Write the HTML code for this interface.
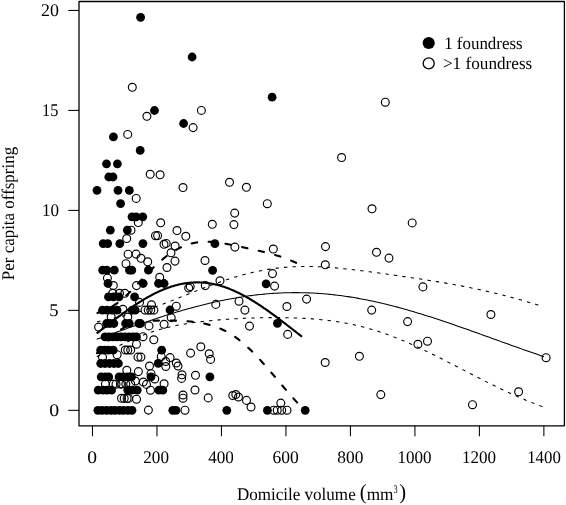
<!DOCTYPE html>
<html><head><meta charset="utf-8"><title>Per capita offspring vs domicile volume</title>
<style>html,body{margin:0;padding:0;background:#fff;}svg{display:block;}text{font-family:"Liberation Serif",serif;fill:#000;text-rendering:geometricPrecision;}svg{will-change:transform;}</style>
</head><body>
<svg width="566" height="505" viewBox="0 0 566 505">
<rect width="566" height="505" fill="#fff"/>
<rect x="79.0" y="1.5" width="485.40" height="424.30" fill="none" stroke="#000" stroke-width="1.3" stroke-linejoin="round"/>
<line x1="68.3" y1="410.35" x2="79.0" y2="410.35" stroke="#000" stroke-width="1.05"/>
<line x1="68.3" y1="310.38" x2="79.0" y2="310.38" stroke="#000" stroke-width="1.05"/>
<line x1="68.3" y1="210.40" x2="79.0" y2="210.40" stroke="#000" stroke-width="1.05"/>
<line x1="68.3" y1="110.43" x2="79.0" y2="110.43" stroke="#000" stroke-width="1.05"/>
<line x1="68.3" y1="10.45" x2="79.0" y2="10.45" stroke="#000" stroke-width="1.05"/>
<line x1="92.48" y1="425.8" x2="92.48" y2="436.3" stroke="#000" stroke-width="1.05"/>
<line x1="156.97" y1="425.8" x2="156.97" y2="436.3" stroke="#000" stroke-width="1.05"/>
<line x1="221.45" y1="425.8" x2="221.45" y2="436.3" stroke="#000" stroke-width="1.05"/>
<line x1="285.94" y1="425.8" x2="285.94" y2="436.3" stroke="#000" stroke-width="1.05"/>
<line x1="350.42" y1="425.8" x2="350.42" y2="436.3" stroke="#000" stroke-width="1.05"/>
<line x1="414.91" y1="425.8" x2="414.91" y2="436.3" stroke="#000" stroke-width="1.05"/>
<line x1="479.40" y1="425.8" x2="479.40" y2="436.3" stroke="#000" stroke-width="1.05"/>
<line x1="543.88" y1="425.8" x2="543.88" y2="436.3" stroke="#000" stroke-width="1.05"/>
<circle cx="132.3" cy="87.3" r="3.95" fill="none" stroke="#000" stroke-width="1.15"/>
<circle cx="385.3" cy="102.2" r="3.95" fill="none" stroke="#000" stroke-width="1.15"/>
<circle cx="201.4" cy="110.4" r="3.95" fill="none" stroke="#000" stroke-width="1.15"/>
<circle cx="146.9" cy="116.3" r="3.95" fill="none" stroke="#000" stroke-width="1.15"/>
<circle cx="193.1" cy="127.6" r="3.95" fill="none" stroke="#000" stroke-width="1.15"/>
<circle cx="127.7" cy="134.4" r="3.95" fill="none" stroke="#000" stroke-width="1.15"/>
<circle cx="341.6" cy="157.5" r="3.95" fill="none" stroke="#000" stroke-width="1.15"/>
<circle cx="150.2" cy="174.3" r="3.95" fill="none" stroke="#000" stroke-width="1.15"/>
<circle cx="160.1" cy="174.8" r="3.95" fill="none" stroke="#000" stroke-width="1.15"/>
<circle cx="229.5" cy="182.3" r="3.95" fill="none" stroke="#000" stroke-width="1.15"/>
<circle cx="183.0" cy="187.5" r="3.95" fill="none" stroke="#000" stroke-width="1.15"/>
<circle cx="246.4" cy="187.3" r="3.95" fill="none" stroke="#000" stroke-width="1.15"/>
<circle cx="136.2" cy="198.4" r="3.95" fill="none" stroke="#000" stroke-width="1.15"/>
<circle cx="267.3" cy="203.7" r="3.95" fill="none" stroke="#000" stroke-width="1.15"/>
<circle cx="372.0" cy="208.8" r="3.95" fill="none" stroke="#000" stroke-width="1.15"/>
<circle cx="234.7" cy="213.1" r="3.95" fill="none" stroke="#000" stroke-width="1.15"/>
<circle cx="138.3" cy="222.5" r="3.95" fill="none" stroke="#000" stroke-width="1.15"/>
<circle cx="160.7" cy="222.8" r="3.95" fill="none" stroke="#000" stroke-width="1.15"/>
<circle cx="412.2" cy="222.9" r="3.95" fill="none" stroke="#000" stroke-width="1.15"/>
<circle cx="212.3" cy="224.3" r="3.95" fill="none" stroke="#000" stroke-width="1.15"/>
<circle cx="233.9" cy="224.6" r="3.95" fill="none" stroke="#000" stroke-width="1.15"/>
<circle cx="131.0" cy="230.2" r="3.95" fill="none" stroke="#000" stroke-width="1.15"/>
<circle cx="177.0" cy="230.5" r="3.95" fill="none" stroke="#000" stroke-width="1.15"/>
<circle cx="155.5" cy="235.7" r="3.95" fill="none" stroke="#000" stroke-width="1.15"/>
<circle cx="157.6" cy="235.6" r="3.95" fill="none" stroke="#000" stroke-width="1.15"/>
<circle cx="185.8" cy="236.3" r="3.95" fill="none" stroke="#000" stroke-width="1.15"/>
<circle cx="126.7" cy="238.5" r="3.95" fill="none" stroke="#000" stroke-width="1.15"/>
<circle cx="164.0" cy="244.3" r="3.95" fill="none" stroke="#000" stroke-width="1.15"/>
<circle cx="166.2" cy="243.4" r="3.95" fill="none" stroke="#000" stroke-width="1.15"/>
<circle cx="175.1" cy="246.0" r="3.95" fill="none" stroke="#000" stroke-width="1.15"/>
<circle cx="234.9" cy="247.1" r="3.95" fill="none" stroke="#000" stroke-width="1.15"/>
<circle cx="325.5" cy="246.6" r="3.95" fill="none" stroke="#000" stroke-width="1.15"/>
<circle cx="273.3" cy="249.0" r="3.95" fill="none" stroke="#000" stroke-width="1.15"/>
<circle cx="171.0" cy="252.8" r="3.95" fill="none" stroke="#000" stroke-width="1.15"/>
<circle cx="376.5" cy="252.3" r="3.95" fill="none" stroke="#000" stroke-width="1.15"/>
<circle cx="128.1" cy="254.2" r="3.95" fill="none" stroke="#000" stroke-width="1.15"/>
<circle cx="136.1" cy="254.1" r="3.95" fill="none" stroke="#000" stroke-width="1.15"/>
<circle cx="141.0" cy="258.3" r="3.95" fill="none" stroke="#000" stroke-width="1.15"/>
<circle cx="389.0" cy="258.1" r="3.95" fill="none" stroke="#000" stroke-width="1.15"/>
<circle cx="147.7" cy="261.8" r="3.95" fill="none" stroke="#000" stroke-width="1.15"/>
<circle cx="175.0" cy="261.1" r="3.95" fill="none" stroke="#000" stroke-width="1.15"/>
<circle cx="205.0" cy="260.5" r="3.95" fill="none" stroke="#000" stroke-width="1.15"/>
<circle cx="126.0" cy="263.7" r="3.95" fill="none" stroke="#000" stroke-width="1.15"/>
<circle cx="325.3" cy="264.8" r="3.95" fill="none" stroke="#000" stroke-width="1.15"/>
<circle cx="167.0" cy="267.5" r="3.95" fill="none" stroke="#000" stroke-width="1.15"/>
<circle cx="272.5" cy="273.6" r="3.95" fill="none" stroke="#000" stroke-width="1.15"/>
<circle cx="107.4" cy="278.1" r="3.95" fill="none" stroke="#000" stroke-width="1.15"/>
<circle cx="159.7" cy="277.3" r="3.95" fill="none" stroke="#000" stroke-width="1.15"/>
<circle cx="220.0" cy="280.8" r="3.95" fill="none" stroke="#000" stroke-width="1.15"/>
<circle cx="113.3" cy="285.5" r="3.95" fill="none" stroke="#000" stroke-width="1.15"/>
<circle cx="136.5" cy="285.6" r="3.95" fill="none" stroke="#000" stroke-width="1.15"/>
<circle cx="188.7" cy="288.0" r="3.95" fill="none" stroke="#000" stroke-width="1.15"/>
<circle cx="190.2" cy="286.6" r="3.95" fill="none" stroke="#000" stroke-width="1.15"/>
<circle cx="205.3" cy="285.6" r="3.95" fill="none" stroke="#000" stroke-width="1.15"/>
<circle cx="274.6" cy="286.1" r="3.95" fill="none" stroke="#000" stroke-width="1.15"/>
<circle cx="422.9" cy="286.9" r="3.95" fill="none" stroke="#000" stroke-width="1.15"/>
<circle cx="112.7" cy="293.3" r="3.95" fill="none" stroke="#000" stroke-width="1.15"/>
<circle cx="119.5" cy="293.3" r="3.95" fill="none" stroke="#000" stroke-width="1.15"/>
<circle cx="124.8" cy="293.3" r="3.95" fill="none" stroke="#000" stroke-width="1.15"/>
<circle cx="306.6" cy="299.1" r="3.95" fill="none" stroke="#000" stroke-width="1.15"/>
<circle cx="239.0" cy="301.2" r="3.95" fill="none" stroke="#000" stroke-width="1.15"/>
<circle cx="139.5" cy="302.4" r="3.95" fill="none" stroke="#000" stroke-width="1.15"/>
<circle cx="151.5" cy="304.8" r="3.95" fill="none" stroke="#000" stroke-width="1.15"/>
<circle cx="215.8" cy="304.4" r="3.95" fill="none" stroke="#000" stroke-width="1.15"/>
<circle cx="176.3" cy="306.2" r="3.95" fill="none" stroke="#000" stroke-width="1.15"/>
<circle cx="286.9" cy="306.5" r="3.95" fill="none" stroke="#000" stroke-width="1.15"/>
<circle cx="145.0" cy="310.1" r="3.95" fill="none" stroke="#000" stroke-width="1.15"/>
<circle cx="148.2" cy="310.1" r="3.95" fill="none" stroke="#000" stroke-width="1.15"/>
<circle cx="150.8" cy="310.1" r="3.95" fill="none" stroke="#000" stroke-width="1.15"/>
<circle cx="153.9" cy="310.1" r="3.95" fill="none" stroke="#000" stroke-width="1.15"/>
<circle cx="122.9" cy="309.3" r="3.95" fill="none" stroke="#000" stroke-width="1.15"/>
<circle cx="244.9" cy="310.1" r="3.95" fill="none" stroke="#000" stroke-width="1.15"/>
<circle cx="371.7" cy="310.1" r="3.95" fill="none" stroke="#000" stroke-width="1.15"/>
<circle cx="490.9" cy="314.5" r="3.95" fill="none" stroke="#000" stroke-width="1.15"/>
<circle cx="171.2" cy="317.6" r="3.95" fill="none" stroke="#000" stroke-width="1.15"/>
<circle cx="111.2" cy="317.0" r="3.95" fill="none" stroke="#000" stroke-width="1.15"/>
<circle cx="127.8" cy="317.0" r="3.95" fill="none" stroke="#000" stroke-width="1.15"/>
<circle cx="407.6" cy="321.6" r="3.95" fill="none" stroke="#000" stroke-width="1.15"/>
<circle cx="149.0" cy="325.9" r="3.95" fill="none" stroke="#000" stroke-width="1.15"/>
<circle cx="164.1" cy="324.3" r="3.95" fill="none" stroke="#000" stroke-width="1.15"/>
<circle cx="249.5" cy="326.1" r="3.95" fill="none" stroke="#000" stroke-width="1.15"/>
<circle cx="98.6" cy="327.1" r="3.95" fill="none" stroke="#000" stroke-width="1.15"/>
<circle cx="287.7" cy="334.4" r="3.95" fill="none" stroke="#000" stroke-width="1.15"/>
<circle cx="143.0" cy="336.7" r="3.95" fill="none" stroke="#000" stroke-width="1.15"/>
<circle cx="153.8" cy="339.8" r="3.95" fill="none" stroke="#000" stroke-width="1.15"/>
<circle cx="427.5" cy="341.2" r="3.95" fill="none" stroke="#000" stroke-width="1.15"/>
<circle cx="136.5" cy="344.2" r="3.95" fill="none" stroke="#000" stroke-width="1.15"/>
<circle cx="417.9" cy="344.3" r="3.95" fill="none" stroke="#000" stroke-width="1.15"/>
<circle cx="200.8" cy="346.8" r="3.95" fill="none" stroke="#000" stroke-width="1.15"/>
<circle cx="125.3" cy="350.0" r="3.95" fill="none" stroke="#000" stroke-width="1.15"/>
<circle cx="127.8" cy="350.0" r="3.95" fill="none" stroke="#000" stroke-width="1.15"/>
<circle cx="130.7" cy="350.0" r="3.95" fill="none" stroke="#000" stroke-width="1.15"/>
<circle cx="190.6" cy="353.1" r="3.95" fill="none" stroke="#000" stroke-width="1.15"/>
<circle cx="209.2" cy="353.8" r="3.95" fill="none" stroke="#000" stroke-width="1.15"/>
<circle cx="117.1" cy="354.7" r="3.95" fill="none" stroke="#000" stroke-width="1.15"/>
<circle cx="359.4" cy="356.3" r="3.95" fill="none" stroke="#000" stroke-width="1.15"/>
<circle cx="102.5" cy="357.1" r="3.95" fill="none" stroke="#000" stroke-width="1.15"/>
<circle cx="138.0" cy="357.1" r="3.95" fill="none" stroke="#000" stroke-width="1.15"/>
<circle cx="140.9" cy="357.1" r="3.95" fill="none" stroke="#000" stroke-width="1.15"/>
<circle cx="161.2" cy="356.6" r="3.95" fill="none" stroke="#000" stroke-width="1.15"/>
<circle cx="170.1" cy="357.6" r="3.95" fill="none" stroke="#000" stroke-width="1.15"/>
<circle cx="546.1" cy="357.7" r="3.95" fill="none" stroke="#000" stroke-width="1.15"/>
<circle cx="210.6" cy="359.4" r="3.95" fill="none" stroke="#000" stroke-width="1.15"/>
<circle cx="165.7" cy="361.5" r="3.95" fill="none" stroke="#000" stroke-width="1.15"/>
<circle cx="176.3" cy="363.0" r="3.95" fill="none" stroke="#000" stroke-width="1.15"/>
<circle cx="325.2" cy="362.5" r="3.95" fill="none" stroke="#000" stroke-width="1.15"/>
<circle cx="149.5" cy="366.0" r="3.95" fill="none" stroke="#000" stroke-width="1.15"/>
<circle cx="165.8" cy="366.5" r="3.95" fill="none" stroke="#000" stroke-width="1.15"/>
<circle cx="178.0" cy="366.0" r="3.95" fill="none" stroke="#000" stroke-width="1.15"/>
<circle cx="126.8" cy="370.3" r="3.95" fill="none" stroke="#000" stroke-width="1.15"/>
<circle cx="138.4" cy="371.6" r="3.95" fill="none" stroke="#000" stroke-width="1.15"/>
<circle cx="151.0" cy="373.7" r="3.95" fill="none" stroke="#000" stroke-width="1.15"/>
<circle cx="182.0" cy="374.8" r="3.95" fill="none" stroke="#000" stroke-width="1.15"/>
<circle cx="195.5" cy="375.3" r="3.95" fill="none" stroke="#000" stroke-width="1.15"/>
<circle cx="154.8" cy="379.0" r="3.95" fill="none" stroke="#000" stroke-width="1.15"/>
<circle cx="181.6" cy="378.4" r="3.95" fill="none" stroke="#000" stroke-width="1.15"/>
<circle cx="143.3" cy="382.0" r="3.95" fill="none" stroke="#000" stroke-width="1.15"/>
<circle cx="105.4" cy="384.1" r="3.95" fill="none" stroke="#000" stroke-width="1.15"/>
<circle cx="113.2" cy="384.1" r="3.95" fill="none" stroke="#000" stroke-width="1.15"/>
<circle cx="116.0" cy="384.2" r="3.95" fill="none" stroke="#000" stroke-width="1.15"/>
<circle cx="120.5" cy="384.1" r="3.95" fill="none" stroke="#000" stroke-width="1.15"/>
<circle cx="121.9" cy="384.0" r="3.95" fill="none" stroke="#000" stroke-width="1.15"/>
<circle cx="125.8" cy="384.0" r="3.95" fill="none" stroke="#000" stroke-width="1.15"/>
<circle cx="130.7" cy="384.0" r="3.95" fill="none" stroke="#000" stroke-width="1.15"/>
<circle cx="135.4" cy="381.0" r="3.95" fill="none" stroke="#000" stroke-width="1.15"/>
<circle cx="146.5" cy="384.4" r="3.95" fill="none" stroke="#000" stroke-width="1.15"/>
<circle cx="164.1" cy="383.8" r="3.95" fill="none" stroke="#000" stroke-width="1.15"/>
<circle cx="150.5" cy="390.2" r="3.95" fill="none" stroke="#000" stroke-width="1.15"/>
<circle cx="195.0" cy="390.0" r="3.95" fill="none" stroke="#000" stroke-width="1.15"/>
<circle cx="518.6" cy="391.8" r="3.95" fill="none" stroke="#000" stroke-width="1.15"/>
<circle cx="380.8" cy="394.6" r="3.95" fill="none" stroke="#000" stroke-width="1.15"/>
<circle cx="183.0" cy="395.0" r="3.95" fill="none" stroke="#000" stroke-width="1.15"/>
<circle cx="183.0" cy="398.2" r="3.95" fill="none" stroke="#000" stroke-width="1.15"/>
<circle cx="232.8" cy="395.5" r="3.95" fill="none" stroke="#000" stroke-width="1.15"/>
<circle cx="235.8" cy="394.5" r="3.95" fill="none" stroke="#000" stroke-width="1.15"/>
<circle cx="238.5" cy="397.0" r="3.95" fill="none" stroke="#000" stroke-width="1.15"/>
<circle cx="121.5" cy="398.3" r="3.95" fill="none" stroke="#000" stroke-width="1.15"/>
<circle cx="124.2" cy="398.4" r="3.95" fill="none" stroke="#000" stroke-width="1.15"/>
<circle cx="127.1" cy="398.4" r="3.95" fill="none" stroke="#000" stroke-width="1.15"/>
<circle cx="128.6" cy="398.4" r="3.95" fill="none" stroke="#000" stroke-width="1.15"/>
<circle cx="136.5" cy="399.2" r="3.95" fill="none" stroke="#000" stroke-width="1.15"/>
<circle cx="208.2" cy="397.9" r="3.95" fill="none" stroke="#000" stroke-width="1.15"/>
<circle cx="246.5" cy="400.4" r="3.95" fill="none" stroke="#000" stroke-width="1.15"/>
<circle cx="280.8" cy="403.1" r="3.95" fill="none" stroke="#000" stroke-width="1.15"/>
<circle cx="472.5" cy="404.7" r="3.95" fill="none" stroke="#000" stroke-width="1.15"/>
<circle cx="251.0" cy="407.0" r="3.95" fill="none" stroke="#000" stroke-width="1.15"/>
<circle cx="148.4" cy="410.1" r="3.95" fill="none" stroke="#000" stroke-width="1.15"/>
<circle cx="185.0" cy="410.2" r="3.95" fill="none" stroke="#000" stroke-width="1.15"/>
<circle cx="273.7" cy="410.2" r="3.95" fill="none" stroke="#000" stroke-width="1.15"/>
<circle cx="277.2" cy="410.2" r="3.95" fill="none" stroke="#000" stroke-width="1.15"/>
<circle cx="281.7" cy="410.2" r="3.95" fill="none" stroke="#000" stroke-width="1.15"/>
<circle cx="287.0" cy="410.2" r="3.95" fill="none" stroke="#000" stroke-width="1.15"/>
<circle cx="140.6" cy="17.3" r="4.4" fill="#000"/>
<circle cx="192.1" cy="57.0" r="4.4" fill="#000"/>
<circle cx="272.1" cy="97.2" r="4.4" fill="#000"/>
<circle cx="154.5" cy="110.5" r="4.4" fill="#000"/>
<circle cx="183.6" cy="123.5" r="4.4" fill="#000"/>
<circle cx="113.4" cy="136.9" r="4.4" fill="#000"/>
<circle cx="140.2" cy="150.4" r="4.4" fill="#000"/>
<circle cx="214.9" cy="243.7" r="4.4" fill="#000"/>
<circle cx="212.6" cy="270.3" r="4.4" fill="#000"/>
<circle cx="266.1" cy="283.8" r="4.4" fill="#000"/>
<circle cx="170.0" cy="310.0" r="4.4" fill="#000"/>
<circle cx="161.7" cy="350.2" r="4.4" fill="#000"/>
<circle cx="158.2" cy="363.4" r="4.4" fill="#000"/>
<circle cx="151.0" cy="376.8" r="4.4" fill="#000"/>
<circle cx="209.9" cy="376.8" r="4.4" fill="#000"/>
<circle cx="277.4" cy="323.3" r="4.4" fill="#000"/>
<circle cx="106.5" cy="163.8" r="4.4" fill="#000"/>
<circle cx="117.4" cy="163.8" r="4.4" fill="#000"/>
<circle cx="108.8" cy="177.0" r="4.4" fill="#000"/>
<circle cx="113.0" cy="177.0" r="4.4" fill="#000"/>
<circle cx="97.0" cy="190.3" r="4.4" fill="#000"/>
<circle cx="118.0" cy="190.3" r="4.4" fill="#000"/>
<circle cx="129.3" cy="190.3" r="4.4" fill="#000"/>
<circle cx="120.6" cy="203.6" r="4.4" fill="#000"/>
<circle cx="132.0" cy="216.8" r="4.4" fill="#000"/>
<circle cx="136.2" cy="216.8" r="4.4" fill="#000"/>
<circle cx="142.8" cy="216.8" r="4.4" fill="#000"/>
<circle cx="110.3" cy="230.2" r="4.4" fill="#000"/>
<circle cx="127.3" cy="230.2" r="4.4" fill="#000"/>
<circle cx="103.2" cy="243.6" r="4.4" fill="#000"/>
<circle cx="107.7" cy="243.6" r="4.4" fill="#000"/>
<circle cx="119.8" cy="243.6" r="4.4" fill="#000"/>
<circle cx="142.9" cy="243.6" r="4.4" fill="#000"/>
<circle cx="102.7" cy="270.2" r="4.4" fill="#000"/>
<circle cx="106.9" cy="270.2" r="4.4" fill="#000"/>
<circle cx="114.3" cy="270.2" r="4.4" fill="#000"/>
<circle cx="129.5" cy="270.2" r="4.4" fill="#000"/>
<circle cx="131.8" cy="270.2" r="4.4" fill="#000"/>
<circle cx="148.4" cy="270.2" r="4.4" fill="#000"/>
<circle cx="108.0" cy="283.5" r="4.4" fill="#000"/>
<circle cx="143.2" cy="283.5" r="4.4" fill="#000"/>
<circle cx="158.5" cy="283.5" r="4.4" fill="#000"/>
<circle cx="164.1" cy="283.5" r="4.4" fill="#000"/>
<circle cx="108.5" cy="296.9" r="4.4" fill="#000"/>
<circle cx="113.5" cy="296.9" r="4.4" fill="#000"/>
<circle cx="119.0" cy="296.9" r="4.4" fill="#000"/>
<circle cx="134.6" cy="296.9" r="4.4" fill="#000"/>
<circle cx="102.5" cy="310.2" r="4.4" fill="#000"/>
<circle cx="107.0" cy="310.2" r="4.4" fill="#000"/>
<circle cx="112.0" cy="310.2" r="4.4" fill="#000"/>
<circle cx="117.0" cy="310.2" r="4.4" fill="#000"/>
<circle cx="132.2" cy="310.2" r="4.4" fill="#000"/>
<circle cx="135.2" cy="310.2" r="4.4" fill="#000"/>
<circle cx="106.6" cy="323.5" r="4.4" fill="#000"/>
<circle cx="110.0" cy="323.5" r="4.4" fill="#000"/>
<circle cx="113.9" cy="323.5" r="4.4" fill="#000"/>
<circle cx="125.6" cy="323.5" r="4.4" fill="#000"/>
<circle cx="129.3" cy="323.5" r="4.4" fill="#000"/>
<circle cx="138.8" cy="323.5" r="4.4" fill="#000"/>
<circle cx="140.5" cy="323.5" r="4.4" fill="#000"/>
<circle cx="105.0" cy="336.9" r="4.4" fill="#000"/>
<circle cx="109.0" cy="336.9" r="4.4" fill="#000"/>
<circle cx="113.0" cy="336.9" r="4.4" fill="#000"/>
<circle cx="117.0" cy="336.9" r="4.4" fill="#000"/>
<circle cx="121.0" cy="336.9" r="4.4" fill="#000"/>
<circle cx="125.0" cy="336.9" r="4.4" fill="#000"/>
<circle cx="129.0" cy="336.9" r="4.4" fill="#000"/>
<circle cx="133.0" cy="336.9" r="4.4" fill="#000"/>
<circle cx="136.5" cy="336.9" r="4.4" fill="#000"/>
<circle cx="100.7" cy="350.2" r="4.4" fill="#000"/>
<circle cx="104.5" cy="350.2" r="4.4" fill="#000"/>
<circle cx="108.5" cy="350.2" r="4.4" fill="#000"/>
<circle cx="113.2" cy="350.2" r="4.4" fill="#000"/>
<circle cx="100.7" cy="363.5" r="4.4" fill="#000"/>
<circle cx="105.0" cy="363.5" r="4.4" fill="#000"/>
<circle cx="109.5" cy="363.5" r="4.4" fill="#000"/>
<circle cx="114.0" cy="363.5" r="4.4" fill="#000"/>
<circle cx="118.4" cy="363.5" r="4.4" fill="#000"/>
<circle cx="101.2" cy="376.9" r="4.4" fill="#000"/>
<circle cx="105.2" cy="376.9" r="4.4" fill="#000"/>
<circle cx="108.7" cy="376.9" r="4.4" fill="#000"/>
<circle cx="119.1" cy="376.9" r="4.4" fill="#000"/>
<circle cx="123.0" cy="376.9" r="4.4" fill="#000"/>
<circle cx="127.5" cy="376.9" r="4.4" fill="#000"/>
<circle cx="131.5" cy="376.9" r="4.4" fill="#000"/>
<circle cx="98.2" cy="390.2" r="4.4" fill="#000"/>
<circle cx="103.0" cy="390.2" r="4.4" fill="#000"/>
<circle cx="107.0" cy="390.2" r="4.4" fill="#000"/>
<circle cx="111.6" cy="390.2" r="4.4" fill="#000"/>
<circle cx="127.8" cy="390.2" r="4.4" fill="#000"/>
<circle cx="132.0" cy="390.2" r="4.4" fill="#000"/>
<circle cx="137.2" cy="390.2" r="4.4" fill="#000"/>
<circle cx="158.9" cy="390.2" r="4.4" fill="#000"/>
<circle cx="162.8" cy="390.2" r="4.4" fill="#000"/>
<circle cx="97.9" cy="410.3" r="4.4" fill="#000"/>
<circle cx="102.0" cy="410.3" r="4.4" fill="#000"/>
<circle cx="106.5" cy="410.3" r="4.4" fill="#000"/>
<circle cx="111.0" cy="410.3" r="4.4" fill="#000"/>
<circle cx="115.0" cy="410.3" r="4.4" fill="#000"/>
<circle cx="119.5" cy="410.3" r="4.4" fill="#000"/>
<circle cx="123.5" cy="410.3" r="4.4" fill="#000"/>
<circle cx="128.0" cy="410.3" r="4.4" fill="#000"/>
<circle cx="132.0" cy="410.3" r="4.4" fill="#000"/>
<circle cx="172.8" cy="410.3" r="4.4" fill="#000"/>
<circle cx="176.0" cy="410.3" r="4.4" fill="#000"/>
<circle cx="226.8" cy="410.3" r="4.4" fill="#000"/>
<circle cx="267.4" cy="410.3" r="4.4" fill="#000"/>
<circle cx="305.2" cy="410.3" r="4.4" fill="#000"/>
<path d="M96.67,333.46 L97.36,332.92 L98.05,332.39 L98.73,331.85 L99.42,331.32 L100.11,330.78 L100.79,330.25 L101.48,329.71 L102.17,329.18 L102.85,328.65 L103.54,328.11 L104.23,327.58 L104.91,327.05 L105.60,326.52 L106.29,325.99 L106.98,325.45 L107.66,324.92 L108.35,324.40 L109.04,323.87 L109.72,323.34 L110.41,322.81 L111.10,322.29 L111.78,321.76 L112.47,321.24 L113.16,320.72 L113.84,320.20 L114.53,319.68 L115.22,319.16 L115.91,318.64 L116.59,318.13 L117.28,317.61 L117.97,317.10 L118.65,316.59 L119.34,316.08 L120.03,315.58 L120.71,315.07 L121.40,314.57 L122.09,314.06 L122.77,313.56 L123.46,313.07 L124.15,312.57 L124.84,312.08 L125.52,311.59 L126.21,311.10 L126.90,310.61 L127.58,310.13 L128.27,309.65 L128.96,309.17 L129.64,308.69 L130.33,308.21 L131.02,307.74 L131.70,307.27 L132.39,306.81 L133.08,306.35 L133.77,305.88 L134.45,305.43 L135.14,304.97 L135.83,304.52 L136.51,304.07 L137.20,303.63 L137.89,303.19 L138.57,302.75 L139.26,302.31 L139.95,301.88 L140.63,301.45 L141.32,301.03 L142.01,300.61 L142.69,300.19 L143.38,299.78 L144.07,299.37 L144.76,298.96 L145.44,298.56 L146.13,298.16 L146.82,297.76 L147.50,297.37 L148.19,296.99 L148.88,296.60 L149.56,296.22 L150.25,295.85 L150.94,295.48 L151.62,295.11 L152.31,294.75 L153.00,294.39 L153.69,294.04 L154.37,293.69 L155.06,293.35 L155.75,293.01 L156.43,292.68 L157.12,292.35 L157.81,292.02 L158.49,291.70 L159.18,291.38 L159.87,291.07 L160.55,290.77 L161.24,290.47 L161.93,290.17 L162.62,289.88 L163.30,289.59 L163.99,289.31 L164.68,289.04 L165.36,288.76 L166.05,288.50 L166.74,288.24 L167.42,287.98 L168.11,287.73 L168.80,287.49 L169.48,287.25 L170.17,287.02 L170.86,286.79 L171.55,286.56 L172.23,286.35 L172.92,286.14 L173.61,285.93 L174.29,285.73 L174.98,285.53 L175.67,285.34 L176.35,285.16 L177.04,284.98 L177.73,284.81 L178.41,284.64 L179.10,284.48 L179.79,284.33 L180.48,284.18 L181.16,284.03 L181.85,283.90 L182.54,283.76 L183.22,283.64 L183.91,283.52 L184.60,283.40 L185.28,283.30 L185.97,283.19 L186.66,283.10 L187.34,283.01 L188.03,282.92 L188.72,282.84 L189.41,282.77 L190.09,282.71 L190.78,282.64 L191.47,282.59 L192.15,282.54 L192.84,282.50 L193.53,282.46 L194.21,282.43 L194.90,282.41 L195.59,282.39 L196.27,282.38 L196.96,282.38 L197.65,282.38 L198.34,282.38 L199.02,282.39 L199.71,282.41 L200.40,282.44 L201.08,282.47 L201.77,282.51 L202.46,282.55 L203.14,282.60 L203.83,282.65 L204.52,282.71 L205.20,282.78 L205.89,282.85 L206.58,282.93 L207.27,283.02 L207.95,283.11 L208.64,283.21 L209.33,283.31 L210.01,283.42 L210.70,283.53 L211.39,283.65 L212.07,283.78 L212.76,283.91 L213.45,284.05 L214.13,284.20 L214.82,284.35 L215.51,284.50 L216.19,284.66 L216.88,284.83 L217.57,285.01 L218.26,285.18 L218.94,285.37 L219.63,285.56 L220.32,285.76 L221.00,285.96 L221.69,286.16 L222.38,286.38 L223.06,286.60 L223.75,286.82 L224.44,287.05 L225.12,287.28 L225.81,287.52 L226.50,287.77 L227.19,288.02 L227.87,288.27 L228.56,288.54 L229.25,288.80 L229.93,289.07 L230.62,289.35 L231.31,289.63 L231.99,289.92 L232.68,290.21 L233.37,290.51 L234.05,290.81 L234.74,291.12 L235.43,291.43 L236.12,291.74 L236.80,292.07 L237.49,292.39 L238.18,292.72 L238.86,293.06 L239.55,293.40 L240.24,293.74 L240.92,294.09 L241.61,294.44 L242.30,294.80 L242.98,295.16 L243.67,295.53 L244.36,295.90 L245.05,296.28 L245.73,296.66 L246.42,297.04 L247.11,297.43 L247.79,297.82 L248.48,298.21 L249.17,298.61 L249.85,299.02 L250.54,299.42 L251.23,299.83 L251.91,300.25 L252.60,300.67 L253.29,301.09 L253.98,301.51 L254.66,301.94 L255.35,302.37 L256.04,302.81 L256.72,303.25 L257.41,303.69 L258.10,304.14 L258.78,304.58 L259.47,305.04 L260.16,305.49 L260.84,305.95 L261.53,306.41 L262.22,306.87 L262.91,307.34 L263.59,307.81 L264.28,308.28 L264.97,308.75 L265.65,309.23 L266.34,309.71 L267.03,310.19 L267.71,310.68 L268.40,311.17 L269.09,311.65 L269.77,312.15 L270.46,312.64 L271.15,313.14 L271.84,313.63 L272.52,314.13 L273.21,314.64 L273.90,315.14 L274.58,315.65 L275.27,316.15 L275.96,316.66 L276.64,317.17 L277.33,317.69 L278.02,318.20 L278.70,318.71 L279.39,319.23 L280.08,319.75 L280.77,320.27 L281.45,320.79 L282.14,321.31 L282.83,321.84 L283.51,322.36 L284.20,322.89 L284.89,323.41 L285.57,323.94 L286.26,324.47 L286.95,325.00 L287.63,325.53 L288.32,326.06 L289.01,326.59 L289.70,327.12 L290.38,327.65 L291.07,328.19 L291.76,328.72 L292.44,329.25 L293.13,329.79 L293.82,330.32 L294.50,330.86 L295.19,331.39 L295.88,331.93 L296.56,332.46 L297.25,333.00 L297.94,333.53 L298.62,334.07 L299.31,334.60 L300.00,335.14 L300.69,335.67 L301.37,336.21 L302.06,336.74" fill="none" stroke="#000" stroke-width="2.1" stroke-linejoin="round"/>
<path d="M96.67,313.36 L97.36,313.10 L98.05,312.84 L98.73,312.58 L99.42,312.31 L100.11,312.05 L100.79,311.77 L101.48,311.50 L102.17,311.22 L102.85,310.93 L103.54,310.64 L104.23,310.35 L104.91,310.05 L105.60,309.74 L106.29,309.43 L106.98,309.10 L107.66,308.77 L108.35,308.44 L109.04,308.09 L109.72,307.73 L110.41,307.37 L111.10,306.99 L111.78,306.61 L112.47,306.21 L113.16,305.80 L113.84,305.38 L114.53,304.95 L115.22,304.51 L115.91,304.05 L116.59,303.58 L117.28,303.10 L117.97,302.60 L118.65,302.09 L119.34,301.57 L120.03,301.03 L120.71,300.48 L121.40,299.92 L122.09,299.35 L122.77,298.76 L123.46,298.16 L124.15,297.55 L124.84,296.93 L125.52,296.30 L126.21,295.65 L126.90,295.00 L127.58,294.34 L128.27,293.67 L128.96,292.99 L129.64,292.30 L130.33,291.61 L131.02,290.91 L131.70,290.21 L132.39,289.49 L133.08,288.78 L133.77,288.06 L134.45,287.33 L135.14,286.61 L135.83,285.88 L136.51,285.14 L137.20,284.41 L137.89,283.67 L138.57,282.94 L139.26,282.20 L139.95,281.47 L140.63,280.73 L141.32,279.99 L142.01,279.26 L142.69,278.53 L143.38,277.80 L144.07,277.07 L144.76,276.34 L145.44,275.62 L146.13,274.90 L146.82,274.19 L147.50,273.47 L148.19,272.77 L148.88,272.06 L149.56,271.36 L150.25,270.67 L150.94,269.98 L151.62,269.30 L152.31,268.62 L153.00,267.95 L153.69,267.28 L154.37,266.62 L155.06,265.97 L155.75,265.32 L156.43,264.68 L157.12,264.05 L157.81,263.42 L158.49,262.81 L159.18,262.19 L159.87,261.59 L160.55,260.99 L161.24,260.41 L161.93,259.83 L162.62,259.26 L163.30,258.69 L163.99,258.14 L164.68,257.59 L165.36,257.05 L166.05,256.52 L166.74,256.00 L167.42,255.49 L168.11,254.99 L168.80,254.49 L169.48,254.01 L170.17,253.53 L170.86,253.07 L171.55,252.61 L172.23,252.16 L172.92,251.73 L173.61,251.30 L174.29,250.88 L174.98,250.47 L175.67,250.07 L176.35,249.68 L177.04,249.30 L177.73,248.93 L178.41,248.57 L179.10,248.22 L179.79,247.87 L180.48,247.54 L181.16,247.22 L181.85,246.91 L182.54,246.61 L183.22,246.31 L183.91,246.03 L184.60,245.76 L185.28,245.49 L185.97,245.24 L186.66,245.00 L187.34,244.76 L188.03,244.54 L188.72,244.32 L189.41,244.11 L190.09,243.92 L190.78,243.73 L191.47,243.55 L192.15,243.38 L192.84,243.22 L193.53,243.07 L194.21,242.92 L194.90,242.79 L195.59,242.66 L196.27,242.55 L196.96,242.44 L197.65,242.34 L198.34,242.25 L199.02,242.16 L199.71,242.09 L200.40,242.02 L201.08,241.96 L201.77,241.91 L202.46,241.87 L203.14,241.83 L203.83,241.80 L204.52,241.78 L205.20,241.76 L205.89,241.75 L206.58,241.75 L207.27,241.76 L207.95,241.77 L208.64,241.79 L209.33,241.81 L210.01,241.84 L210.70,241.87 L211.39,241.91 L212.07,241.96 L212.76,242.01 L213.45,242.07 L214.13,242.13 L214.82,242.20 L215.51,242.27 L216.19,242.34 L216.88,242.42 L217.57,242.51 L218.26,242.60 L218.94,242.69 L219.63,242.79 L220.32,242.88 L221.00,242.99 L221.69,243.09 L222.38,243.20 L223.06,243.31 L223.75,243.43 L224.44,243.55 L225.12,243.66 L225.81,243.79 L226.50,243.91 L227.19,244.04 L227.87,244.17 L228.56,244.30 L229.25,244.43 L229.93,244.56 L230.62,244.69 L231.31,244.83 L231.99,244.97 L232.68,245.11 L233.37,245.25 L234.05,245.39 L234.74,245.53 L235.43,245.67 L236.12,245.81 L236.80,245.95 L237.49,246.10 L238.18,246.24 L238.86,246.39 L239.55,246.53 L240.24,246.68 L240.92,246.83 L241.61,246.97 L242.30,247.12 L242.98,247.27 L243.67,247.41 L244.36,247.56 L245.05,247.71 L245.73,247.86 L246.42,248.01 L247.11,248.15 L247.79,248.30 L248.48,248.45 L249.17,248.60 L249.85,248.75 L250.54,248.90 L251.23,249.05 L251.91,249.20 L252.60,249.36 L253.29,249.51 L253.98,249.66 L254.66,249.81 L255.35,249.97 L256.04,250.12 L256.72,250.28 L257.41,250.44 L258.10,250.59 L258.78,250.75 L259.47,250.91 L260.16,251.07 L260.84,251.23 L261.53,251.40 L262.22,251.56 L262.91,251.73 L263.59,251.89 L264.28,252.06 L264.97,252.23 L265.65,252.40 L266.34,252.58 L267.03,252.75 L267.71,252.93 L268.40,253.11 L269.09,253.29 L269.77,253.47 L270.46,253.66 L271.15,253.85 L271.84,254.04 L272.52,254.23 L273.21,254.43 L273.90,254.62 L274.58,254.82 L275.27,255.03 L275.96,255.23 L276.64,255.44 L277.33,255.65 L278.02,255.87 L278.70,256.09 L279.39,256.31 L280.08,256.53 L280.77,256.76 L281.45,256.99 L282.14,257.22 L282.83,257.46 L283.51,257.70 L284.20,257.95 L284.89,258.20 L285.57,258.45 L286.26,258.70 L286.95,258.96 L287.63,259.23 L288.32,259.49 L289.01,259.77 L289.70,260.04 L290.38,260.32 L291.07,260.60 L291.76,260.89 L292.44,261.18 L293.13,261.48 L293.82,261.78 L294.50,262.08 L295.19,262.39 L295.88,262.70 L296.56,263.02 L297.25,263.34 L297.94,263.67 L298.62,264.00 L299.31,264.33 L300.00,264.67 L300.69,265.01 L301.37,265.36 L302.06,265.71" fill="none" stroke="#000" stroke-width="2.1" stroke-linejoin="round" stroke-dasharray="5.5 11.47" stroke-dashoffset="-0.867" stroke-linecap="round"/>
<path d="M96.67,353.56 L97.36,352.75 L98.05,351.94 L98.73,351.13 L99.42,350.32 L100.11,349.52 L100.79,348.72 L101.48,347.93 L102.17,347.14 L102.85,346.36 L103.54,345.58 L104.23,344.81 L104.91,344.05 L105.60,343.29 L106.29,342.54 L106.98,341.81 L107.66,341.07 L108.35,340.35 L109.04,339.64 L109.72,338.95 L110.41,338.26 L111.10,337.58 L111.78,336.92 L112.47,336.27 L113.16,335.63 L113.84,335.01 L114.53,334.41 L115.22,333.81 L115.91,333.24 L116.59,332.68 L117.28,332.13 L117.97,331.60 L118.65,331.09 L119.34,330.60 L120.03,330.12 L120.71,329.66 L121.40,329.21 L122.09,328.78 L122.77,328.37 L123.46,327.97 L124.15,327.59 L124.84,327.23 L125.52,326.88 L126.21,326.54 L126.90,326.22 L127.58,325.91 L128.27,325.62 L128.96,325.34 L129.64,325.07 L130.33,324.82 L131.02,324.58 L131.70,324.34 L132.39,324.12 L133.08,323.91 L133.77,323.71 L134.45,323.52 L135.14,323.34 L135.83,323.17 L136.51,323.00 L137.20,322.85 L137.89,322.70 L138.57,322.56 L139.26,322.43 L139.95,322.30 L140.63,322.18 L141.32,322.06 L142.01,321.96 L142.69,321.85 L143.38,321.75 L144.07,321.66 L144.76,321.57 L145.44,321.49 L146.13,321.41 L146.82,321.34 L147.50,321.27 L148.19,321.20 L148.88,321.14 L149.56,321.08 L150.25,321.03 L150.94,320.98 L151.62,320.93 L152.31,320.88 L153.00,320.84 L153.69,320.80 L154.37,320.76 L155.06,320.73 L155.75,320.70 L156.43,320.67 L157.12,320.64 L157.81,320.62 L158.49,320.59 L159.18,320.57 L159.87,320.56 L160.55,320.54 L161.24,320.53 L161.93,320.51 L162.62,320.50 L163.30,320.49 L163.99,320.49 L164.68,320.48 L165.36,320.48 L166.05,320.48 L166.74,320.48 L167.42,320.48 L168.11,320.48 L168.80,320.48 L169.48,320.49 L170.17,320.50 L170.86,320.51 L171.55,320.52 L172.23,320.53 L172.92,320.55 L173.61,320.56 L174.29,320.58 L174.98,320.60 L175.67,320.62 L176.35,320.64 L177.04,320.66 L177.73,320.69 L178.41,320.72 L179.10,320.75 L179.79,320.78 L180.48,320.81 L181.16,320.84 L181.85,320.88 L182.54,320.92 L183.22,320.96 L183.91,321.00 L184.60,321.05 L185.28,321.10 L185.97,321.15 L186.66,321.20 L187.34,321.25 L188.03,321.31 L188.72,321.37 L189.41,321.43 L190.09,321.49 L190.78,321.56 L191.47,321.63 L192.15,321.71 L192.84,321.78 L193.53,321.86 L194.21,321.95 L194.90,322.03 L195.59,322.12 L196.27,322.21 L196.96,322.31 L197.65,322.41 L198.34,322.52 L199.02,322.62 L199.71,322.74 L200.40,322.85 L201.08,322.98 L201.77,323.10 L202.46,323.23 L203.14,323.37 L203.83,323.51 L204.52,323.65 L205.20,323.80 L205.89,323.95 L206.58,324.11 L207.27,324.28 L207.95,324.45 L208.64,324.63 L209.33,324.81 L210.01,325.00 L210.70,325.19 L211.39,325.39 L212.07,325.60 L212.76,325.82 L213.45,326.04 L214.13,326.26 L214.82,326.50 L215.51,326.74 L216.19,326.99 L216.88,327.24 L217.57,327.50 L218.26,327.77 L218.94,328.05 L219.63,328.33 L220.32,328.63 L221.00,328.93 L221.69,329.24 L222.38,329.55 L223.06,329.88 L223.75,330.21 L224.44,330.55 L225.12,330.90 L225.81,331.26 L226.50,331.62 L227.19,332.00 L227.87,332.38 L228.56,332.78 L229.25,333.18 L229.93,333.59 L230.62,334.01 L231.31,334.43 L231.99,334.87 L232.68,335.32 L233.37,335.77 L234.05,336.23 L234.74,336.71 L235.43,337.19 L236.12,337.68 L236.80,338.18 L237.49,338.68 L238.18,339.20 L238.86,339.73 L239.55,340.26 L240.24,340.80 L240.92,341.36 L241.61,341.92 L242.30,342.48 L242.98,343.06 L243.67,343.65 L244.36,344.24 L245.05,344.84 L245.73,345.45 L246.42,346.07 L247.11,346.70 L247.79,347.33 L248.48,347.97 L249.17,348.62 L249.85,349.28 L250.54,349.94 L251.23,350.61 L251.91,351.29 L252.60,351.97 L253.29,352.67 L253.98,353.36 L254.66,354.07 L255.35,354.78 L256.04,355.49 L256.72,356.22 L257.41,356.94 L258.10,357.68 L258.78,358.42 L259.47,359.16 L260.16,359.91 L260.84,360.66 L261.53,361.42 L262.22,362.19 L262.91,362.95 L263.59,363.72 L264.28,364.50 L264.97,365.28 L265.65,366.06 L266.34,366.85 L267.03,367.64 L267.71,368.43 L268.40,369.22 L269.09,370.02 L269.77,370.82 L270.46,371.62 L271.15,372.42 L271.84,373.23 L272.52,374.04 L273.21,374.85 L273.90,375.66 L274.58,376.47 L275.27,377.28 L275.96,378.09 L276.64,378.90 L277.33,379.72 L278.02,380.53 L278.70,381.34 L279.39,382.16 L280.08,382.97 L280.77,383.78 L281.45,384.59 L282.14,385.40 L282.83,386.21 L283.51,387.02 L284.20,387.82 L284.89,388.63 L285.57,389.43 L286.26,390.23 L286.95,391.03 L287.63,391.83 L288.32,392.62 L289.01,393.41 L289.70,394.20 L290.38,394.99 L291.07,395.77 L291.76,396.55 L292.44,397.33 L293.13,398.10 L293.82,398.87 L294.50,399.63 L295.19,400.40 L295.88,401.15 L296.56,401.91 L297.25,402.66 L297.94,403.40 L298.62,404.14 L299.31,404.87 L300.00,405.61 L300.69,406.33 L301.37,407.05 L302.06,407.77" fill="none" stroke="#000" stroke-width="2.1" stroke-linejoin="round" stroke-dasharray="5.5 11.47" stroke-dashoffset="-0.522" stroke-linecap="round"/>
<path d="M96.67,339.34 L98.17,338.80 L99.66,338.26 L101.16,337.72 L102.65,337.18 L104.15,336.64 L105.65,336.10 L107.14,335.56 L108.64,335.02 L110.13,334.49 L111.63,333.95 L113.12,333.41 L114.62,332.88 L116.12,332.34 L117.61,331.81 L119.11,331.28 L120.60,330.74 L122.10,330.21 L123.59,329.68 L125.09,329.15 L126.59,328.62 L128.08,328.10 L129.58,327.57 L131.07,327.05 L132.57,326.52 L134.06,326.00 L135.56,325.48 L137.06,324.97 L138.55,324.45 L140.05,323.94 L141.54,323.42 L143.04,322.91 L144.53,322.40 L146.03,321.90 L147.52,321.39 L149.02,320.89 L150.52,320.39 L152.01,319.89 L153.51,319.40 L155.00,318.91 L156.50,318.42 L157.99,317.93 L159.49,317.45 L160.99,316.97 L162.48,316.49 L163.98,316.01 L165.47,315.54 L166.97,315.07 L168.46,314.60 L169.96,314.14 L171.46,313.68 L172.95,313.22 L174.45,312.77 L175.94,312.32 L177.44,311.87 L178.93,311.43 L180.43,310.99 L181.93,310.55 L183.42,310.12 L184.92,309.70 L186.41,309.27 L187.91,308.85 L189.40,308.44 L190.90,308.03 L192.40,307.62 L193.89,307.22 L195.39,306.82 L196.88,306.42 L198.38,306.03 L199.87,305.65 L201.37,305.27 L202.87,304.89 L204.36,304.52 L205.86,304.15 L207.35,303.79 L208.85,303.43 L210.34,303.08 L211.84,302.73 L213.34,302.39 L214.83,302.06 L216.33,301.72 L217.82,301.40 L219.32,301.08 L220.81,300.76 L222.31,300.45 L223.80,300.14 L225.30,299.84 L226.80,299.55 L228.29,299.26 L229.79,298.98 L231.28,298.70 L232.78,298.43 L234.27,298.16 L235.77,297.90 L237.27,297.65 L238.76,297.40 L240.26,297.16 L241.75,296.92 L243.25,296.69 L244.74,296.47 L246.24,296.25 L247.74,296.03 L249.23,295.83 L250.73,295.63 L252.22,295.43 L253.72,295.25 L255.21,295.07 L256.71,294.89 L258.21,294.72 L259.70,294.56 L261.20,294.40 L262.69,294.25 L264.19,294.11 L265.68,293.97 L267.18,293.84 L268.68,293.72 L270.17,293.60 L271.67,293.49 L273.16,293.39 L274.66,293.29 L276.15,293.20 L277.65,293.11 L279.15,293.04 L280.64,292.97 L282.14,292.90 L283.63,292.84 L285.13,292.79 L286.62,292.75 L288.12,292.71 L289.62,292.68 L291.11,292.66 L292.61,292.64 L294.10,292.63 L295.60,292.62 L297.09,292.63 L298.59,292.64 L300.09,292.65 L301.58,292.67 L303.08,292.70 L304.57,292.74 L306.07,292.78 L307.56,292.83 L309.06,292.89 L310.55,292.95 L312.05,293.02 L313.55,293.10 L315.04,293.18 L316.54,293.27 L318.03,293.37 L319.53,293.47 L321.02,293.58 L322.52,293.69 L324.02,293.82 L325.51,293.95 L327.01,294.08 L328.50,294.22 L330.00,294.37 L331.49,294.53 L332.99,294.69 L334.49,294.86 L335.98,295.03 L337.48,295.21 L338.97,295.40 L340.47,295.59 L341.96,295.79 L343.46,295.99 L344.96,296.20 L346.45,296.42 L347.95,296.64 L349.44,296.87 L350.94,297.11 L352.43,297.35 L353.93,297.60 L355.43,297.85 L356.92,298.11 L358.42,298.38 L359.91,298.65 L361.41,298.92 L362.90,299.20 L364.40,299.49 L365.90,299.78 L367.39,300.08 L368.89,300.39 L370.38,300.70 L371.88,301.01 L373.37,301.33 L374.87,301.66 L376.37,301.99 L377.86,302.32 L379.36,302.67 L380.85,303.01 L382.35,303.36 L383.84,303.72 L385.34,304.08 L386.83,304.44 L388.33,304.82 L389.83,305.19 L391.32,305.57 L392.82,305.95 L394.31,306.34 L395.81,306.74 L397.30,307.13 L398.80,307.54 L400.30,307.94 L401.79,308.35 L403.29,308.77 L404.78,309.19 L406.28,309.61 L407.77,310.04 L409.27,310.47 L410.77,310.90 L412.26,311.34 L413.76,311.78 L415.25,312.23 L416.75,312.68 L418.24,313.13 L419.74,313.59 L421.24,314.04 L422.73,314.51 L424.23,314.97 L425.72,315.44 L427.22,315.91 L428.71,316.39 L430.21,316.87 L431.71,317.35 L433.20,317.83 L434.70,318.32 L436.19,318.81 L437.69,319.30 L439.18,319.79 L440.68,320.29 L442.18,320.79 L443.67,321.29 L445.17,321.80 L446.66,322.30 L448.16,322.81 L449.65,323.32 L451.15,323.83 L452.65,324.35 L454.14,324.86 L455.64,325.38 L457.13,325.90 L458.63,326.42 L460.12,326.94 L461.62,327.47 L463.11,327.99 L464.61,328.52 L466.11,329.04 L467.60,329.57 L469.10,330.10 L470.59,330.64 L472.09,331.17 L473.58,331.70 L475.08,332.23 L476.58,332.77 L478.07,333.31 L479.57,333.84 L481.06,334.38 L482.56,334.92 L484.05,335.45 L485.55,335.99 L487.05,336.53 L488.54,337.07 L490.04,337.61 L491.53,338.15 L493.03,338.69 L494.52,339.23 L496.02,339.77 L497.52,340.31 L499.01,340.84 L500.51,341.38 L502.00,341.92 L503.50,342.46 L504.99,343.00 L506.49,343.54 L507.99,344.07 L509.48,344.61 L510.98,345.14 L512.47,345.68 L513.97,346.21 L515.46,346.75 L516.96,347.28 L518.46,347.81 L519.95,348.34 L521.45,348.87 L522.94,349.40 L524.44,349.93 L525.93,350.46 L527.43,350.98 L528.93,351.51 L530.42,352.03 L531.92,352.55 L533.41,353.07 L534.91,353.59 L536.40,354.11 L537.90,354.62 L539.39,355.14 L540.89,355.65 L542.39,356.16 L543.88,356.67" fill="none" stroke="#000" stroke-width="1.05" stroke-linejoin="round"/>
<path d="M96.67,321.85 L98.16,321.53 L99.66,321.21 L101.15,320.90 L102.64,320.58 L104.13,320.26 L105.63,319.93 L107.12,319.61 L108.61,319.28 L110.10,318.96 L111.60,318.63 L113.09,318.29 L114.58,317.96 L116.07,317.62 L117.57,317.28 L119.06,316.93 L120.55,316.59 L122.04,316.23 L123.54,315.88 L125.03,315.51 L126.52,315.15 L128.01,314.78 L129.51,314.40 L131.00,314.01 L132.49,313.62 L133.98,313.23 L135.48,312.83 L136.97,312.42 L138.46,312.00 L139.95,311.58 L141.45,311.14 L142.94,310.70 L144.43,310.26 L145.92,309.80 L147.41,309.34 L148.91,308.86 L150.40,308.38 L151.89,307.90 L153.38,307.40 L154.88,306.89 L156.37,306.38 L157.86,305.86 L159.35,305.33 L160.85,304.80 L162.34,304.26 L163.83,303.71 L165.32,303.15 L166.82,302.59 L168.31,302.02 L169.80,301.45 L171.29,300.87 L172.79,300.29 L174.28,299.71 L175.77,299.12 L177.26,298.53 L178.76,297.94 L180.25,297.34 L181.74,296.75 L183.23,296.15 L184.73,295.55 L186.22,294.95 L187.71,294.35 L189.20,293.75 L190.70,293.15 L192.19,292.56 L193.68,291.96 L195.17,291.37 L196.67,290.78 L198.16,290.19 L199.65,289.60 L201.14,289.02 L202.64,288.44 L204.13,287.86 L205.62,287.29 L207.11,286.73 L208.61,286.17 L210.10,285.61 L211.59,285.06 L213.08,284.51 L214.58,283.97 L216.07,283.44 L217.56,282.91 L219.05,282.39 L220.55,281.87 L222.04,281.34 L223.53,280.82 L225.02,280.31 L226.51,279.81 L228.01,279.31 L229.50,278.82 L230.99,278.34 L232.48,277.87 L233.98,277.41 L235.47,276.95 L236.96,276.51 L238.45,276.07 L239.95,275.65 L241.44,275.23 L242.93,274.82 L244.42,274.42 L245.92,274.03 L247.41,273.65 L248.90,273.28 L250.39,272.92 L251.89,272.57 L253.38,272.23 L254.87,271.89 L256.36,271.57 L257.86,271.26 L259.35,270.96 L260.84,270.67 L262.33,270.38 L263.83,270.11 L265.32,269.85 L266.81,269.60 L268.30,269.36 L269.80,269.13 L271.29,268.90 L272.78,268.69 L274.27,268.49 L275.77,268.30 L277.26,268.12 L278.75,267.94 L280.24,267.78 L281.74,267.63 L283.23,267.49 L284.72,267.36 L286.21,267.23 L287.71,267.12 L289.20,267.02 L290.69,266.92 L292.18,266.84 L293.68,266.76 L295.17,266.69 L296.66,266.64 L298.15,266.59 L299.65,266.55 L301.14,266.52 L302.63,266.49 L304.12,266.48 L305.61,266.47 L307.11,266.48 L308.60,266.49 L310.09,266.50 L311.58,266.53 L313.08,266.56 L314.57,266.61 L316.06,266.66 L317.55,266.71 L319.05,266.77 L320.54,266.84 L322.03,266.92 L323.52,267.00 L325.02,267.09 L326.51,267.19 L328.00,267.29 L329.49,267.40 L330.99,267.51 L332.48,267.63 L333.97,267.75 L335.46,267.88 L336.96,268.01 L338.45,268.15 L339.94,268.29 L341.43,268.44 L342.93,268.59 L344.42,268.74 L345.91,268.90 L347.40,269.07 L348.90,269.23 L350.39,269.40 L351.88,269.57 L353.37,269.75 L354.87,269.93 L356.36,270.11 L357.85,270.29 L359.34,270.47 L360.84,270.66 L362.33,270.85 L363.82,271.04 L365.31,271.23 L366.81,271.43 L368.30,271.63 L369.79,271.82 L371.28,272.02 L372.78,272.22 L374.27,272.42 L375.76,272.63 L377.25,272.83 L378.75,273.03 L380.24,273.24 L381.73,273.45 L383.22,273.65 L384.71,273.86 L386.21,274.07 L387.70,274.28 L389.19,274.49 L390.68,274.70 L392.18,274.91 L393.67,275.12 L395.16,275.33 L396.65,275.54 L398.15,275.76 L399.64,275.97 L401.13,276.19 L402.62,276.40 L404.12,276.62 L405.61,276.83 L407.10,277.05 L408.59,277.27 L410.09,277.49 L411.58,277.71 L413.07,277.93 L414.56,278.15 L416.06,278.37 L417.55,278.60 L419.04,278.82 L420.53,279.05 L422.03,279.28 L423.52,279.50 L425.01,279.73 L426.50,279.97 L428.00,280.20 L429.49,280.43 L430.98,280.67 L432.47,280.91 L433.97,281.15 L435.46,281.39 L436.95,281.63 L438.44,281.88 L439.94,282.13 L441.43,282.38 L442.92,282.63 L444.41,282.88 L445.91,283.14 L447.40,283.40 L448.89,283.66 L450.38,283.92 L451.88,284.19 L453.37,284.46 L454.86,284.73 L456.35,285.00 L457.84,285.28 L459.34,285.56 L460.83,285.84 L462.32,286.13 L463.81,286.41 L465.31,286.71 L466.80,287.00 L468.29,287.30 L469.78,287.60 L471.28,287.90 L472.77,288.21 L474.26,288.52 L475.75,288.83 L477.25,289.15 L478.74,289.47 L480.23,289.79 L481.72,290.12 L483.22,290.45 L484.71,290.78 L486.20,291.12 L487.69,291.46 L489.19,291.80 L490.68,292.15 L492.17,292.50 L493.66,292.85 L495.16,293.21 L496.65,293.57 L498.14,293.94 L499.63,294.31 L501.13,294.68 L502.62,295.06 L504.11,295.44 L505.60,295.82 L507.10,296.21 L508.59,296.60 L510.08,296.99 L511.57,297.39 L513.07,297.79 L514.56,298.19 L516.05,298.60 L517.54,299.01 L519.04,299.43 L520.53,299.84 L522.02,300.27 L523.51,300.69 L525.01,301.12 L526.50,301.55 L527.99,301.99 L529.48,302.43 L530.98,302.87 L532.47,303.31 L533.96,303.76 L535.45,304.21 L536.94,304.67 L538.44,305.13 L539.93,305.59 L541.42,306.05 L542.91,306.52" fill="none" stroke="#000" stroke-width="1.05" stroke-linejoin="round" stroke-dasharray="3.4 5.09" stroke-dashoffset="-0.411" stroke-linecap="butt"/>
<path d="M96.67,356.82 L98.17,356.06 L99.66,355.30 L101.16,354.54 L102.65,353.78 L104.15,353.03 L105.65,352.27 L107.14,351.52 L108.64,350.77 L110.13,350.02 L111.63,349.28 L113.12,348.54 L114.62,347.81 L116.12,347.07 L117.61,346.35 L119.11,345.63 L120.60,344.91 L122.10,344.20 L123.59,343.50 L125.09,342.80 L126.59,342.12 L128.08,341.43 L129.58,340.76 L131.07,340.10 L132.57,339.44 L134.06,338.80 L135.56,338.16 L137.06,337.54 L138.55,336.93 L140.05,336.32 L141.54,335.73 L143.04,335.15 L144.53,334.58 L146.03,334.03 L147.52,333.49 L149.02,332.95 L150.52,332.44 L152.01,331.93 L153.51,331.44 L155.00,330.96 L156.50,330.50 L157.99,330.05 L159.49,329.61 L160.99,329.18 L162.48,328.77 L163.98,328.37 L165.47,327.98 L166.97,327.60 L168.46,327.24 L169.96,326.89 L171.46,326.55 L172.95,326.22 L174.45,325.90 L175.94,325.59 L177.44,325.29 L178.93,325.00 L180.43,324.72 L181.93,324.45 L183.42,324.19 L184.92,323.93 L186.41,323.69 L187.91,323.45 L189.40,323.22 L190.90,323.00 L192.40,322.79 L193.89,322.58 L195.39,322.38 L196.88,322.18 L198.38,321.99 L199.87,321.81 L201.37,321.63 L202.87,321.46 L204.36,321.29 L205.86,321.13 L207.35,320.97 L208.85,320.82 L210.34,320.67 L211.84,320.53 L213.34,320.39 L214.83,320.25 L216.33,320.12 L217.82,319.99 L219.32,319.87 L220.81,319.75 L222.31,319.63 L223.80,319.52 L225.30,319.41 L226.80,319.31 L228.29,319.21 L229.79,319.11 L231.28,319.01 L232.78,318.92 L234.27,318.83 L235.77,318.75 L237.27,318.67 L238.76,318.59 L240.26,318.51 L241.75,318.44 L243.25,318.37 L244.74,318.30 L246.24,318.24 L247.74,318.18 L249.23,318.12 L250.73,318.07 L252.22,318.01 L253.72,317.96 L255.21,317.92 L256.71,317.88 L258.21,317.84 L259.70,317.80 L261.20,317.77 L262.69,317.74 L264.19,317.71 L265.68,317.68 L267.18,317.66 L268.68,317.65 L270.17,317.63 L271.67,317.62 L273.16,317.61 L274.66,317.61 L276.15,317.61 L277.65,317.61 L279.15,317.62 L280.64,317.63 L282.14,317.64 L283.63,317.66 L285.13,317.68 L286.62,317.71 L288.12,317.74 L289.62,317.78 L291.11,317.81 L292.61,317.86 L294.10,317.91 L295.60,317.96 L297.09,318.01 L298.59,318.08 L300.09,318.14 L301.58,318.21 L303.08,318.29 L304.57,318.37 L306.07,318.46 L307.56,318.55 L309.06,318.65 L310.55,318.75 L312.05,318.86 L313.55,318.98 L315.04,319.10 L316.54,319.23 L318.03,319.36 L319.53,319.50 L321.02,319.65 L322.52,319.81 L324.02,319.97 L325.51,320.13 L327.01,320.31 L328.50,320.49 L330.00,320.68 L331.49,320.88 L332.99,321.08 L334.49,321.29 L335.98,321.52 L337.48,321.74 L338.97,321.98 L340.47,322.23 L341.96,322.48 L343.46,322.74 L344.96,323.01 L346.45,323.29 L347.95,323.58 L349.44,323.87 L350.94,324.18 L352.43,324.49 L353.93,324.82 L355.43,325.15 L356.92,325.49 L358.42,325.85 L359.91,326.21 L361.41,326.58 L362.90,326.96 L364.40,327.35 L365.90,327.75 L367.39,328.15 L368.89,328.57 L370.38,329.00 L371.88,329.44 L373.37,329.89 L374.87,330.34 L376.37,330.81 L377.86,331.28 L379.36,331.77 L380.85,332.26 L382.35,332.77 L383.84,333.28 L385.34,333.80 L386.83,334.33 L388.33,334.87 L389.83,335.42 L391.32,335.98 L392.82,336.55 L394.31,337.12 L395.81,337.71 L397.30,338.30 L398.80,338.90 L400.30,339.51 L401.79,340.12 L403.29,340.75 L404.78,341.38 L406.28,342.02 L407.77,342.67 L409.27,343.32 L410.77,343.98 L412.26,344.65 L413.76,345.32 L415.25,346.00 L416.75,346.68 L418.24,347.38 L419.74,348.07 L421.24,348.78 L422.73,349.48 L424.23,350.20 L425.72,350.92 L427.22,351.64 L428.71,352.37 L430.21,353.10 L431.71,353.83 L433.20,354.57 L434.70,355.32 L436.19,356.06 L437.69,356.81 L439.18,357.57 L440.68,358.32 L442.18,359.08 L443.67,359.85 L445.17,360.61 L446.66,361.37 L448.16,362.14 L449.65,362.91 L451.15,363.68 L452.65,364.45 L454.14,365.23 L455.64,366.00 L457.13,366.78 L458.63,367.55 L460.12,368.33 L461.62,369.10 L463.11,369.88 L464.61,370.65 L466.11,371.42 L467.60,372.20 L469.10,372.97 L470.59,373.74 L472.09,374.51 L473.58,375.28 L475.08,376.05 L476.58,376.81 L478.07,377.58 L479.57,378.34 L481.06,379.10 L482.56,379.86 L484.05,380.61 L485.55,381.36 L487.05,382.11 L488.54,382.86 L490.04,383.60 L491.53,384.34 L493.03,385.08 L494.52,385.81 L496.02,386.54 L497.52,387.26 L499.01,387.99 L500.51,388.70 L502.00,389.42 L503.50,390.12 L504.99,390.83 L506.49,391.53 L507.99,392.22 L509.48,392.91 L510.98,393.60 L512.47,394.28 L513.97,394.95 L515.46,395.62 L516.96,396.29 L518.46,396.95 L519.95,397.60 L521.45,398.25 L522.94,398.89 L524.44,399.52 L525.93,400.16 L527.43,400.78 L528.93,401.40 L530.42,402.01 L531.92,402.62 L533.41,403.22 L534.91,403.81 L536.40,404.40 L537.90,404.98 L539.39,405.55 L540.89,406.12 L542.39,406.68 L543.88,407.22" fill="none" stroke="#000" stroke-width="1.05" stroke-linejoin="round" stroke-dasharray="3.4 5.09" stroke-dashoffset="-0.041" stroke-linecap="butt"/>
<circle cx="428.7" cy="43.0" r="6.1" fill="#000"/>
<circle cx="428.7" cy="63.4" r="5.5" fill="none" stroke="#000" stroke-width="1.3"/>
<text x="49.15" y="416.00" font-size="17.8" textLength="9.91" lengthAdjust="spacingAndGlyphs">0</text>
<text x="49.22" y="316.00" font-size="17.8" textLength="9.31" lengthAdjust="spacingAndGlyphs">5</text>
<text x="41.90" y="216.00" font-size="17.8" textLength="17.05" lengthAdjust="spacingAndGlyphs">10</text>
<text x="41.96" y="115.95" font-size="17.8" textLength="16.38" lengthAdjust="spacingAndGlyphs">15</text>
<text x="41.01" y="16.10" font-size="17.8" textLength="17.86" lengthAdjust="spacingAndGlyphs">20</text>
<text x="87.26" y="462.75" font-size="17.8" textLength="9.79" lengthAdjust="spacingAndGlyphs">0</text>
<text x="143.25" y="462.75" font-size="17.8" textLength="25.71" lengthAdjust="spacingAndGlyphs">200</text>
<text x="208.17" y="462.75" font-size="17.8" textLength="25.68" lengthAdjust="spacingAndGlyphs">400</text>
<text x="272.55" y="462.75" font-size="17.8" textLength="26.22" lengthAdjust="spacingAndGlyphs">600</text>
<text x="337.34" y="462.75" font-size="17.8" textLength="26.02" lengthAdjust="spacingAndGlyphs">800</text>
<text x="397.46" y="462.75" font-size="17.8" textLength="34.04" lengthAdjust="spacingAndGlyphs">1000</text>
<text x="461.89" y="462.75" font-size="17.8" textLength="34.15" lengthAdjust="spacingAndGlyphs">1200</text>
<text x="527.22" y="462.75" font-size="17.8" textLength="33.62" lengthAdjust="spacingAndGlyphs">1400</text>
<text x="444.16" y="49.00" font-size="17.5" textLength="78.45" lengthAdjust="spacingAndGlyphs">1 foundress</text>
<text x="442.92" y="68.90" font-size="17.5" textLength="89.40" lengthAdjust="spacingAndGlyphs">&gt;1 foundress</text>
<text x="236.91" y="499.90" font-size="17.8" textLength="118.79" lengthAdjust="spacingAndGlyphs">Domicile volume</text>
<text x="359.69" y="498.80" font-size="21.6" textLength="6.87" lengthAdjust="spacingAndGlyphs">(</text>
<text x="366.64" y="499.90" font-size="17.8" textLength="26.83" lengthAdjust="spacingAndGlyphs">mm</text>
<text x="393.60" y="492.60" font-size="11.6" textLength="4.12" lengthAdjust="spacingAndGlyphs">3</text>
<text x="399.14" y="498.80" font-size="21.6" textLength="6.87" lengthAdjust="spacingAndGlyphs">)</text>
<text transform="translate(14.00,0) rotate(-90)" x="-280.19" y="0" font-size="17.8" textLength="133.32" lengthAdjust="spacingAndGlyphs">Per capita offspring</text>
</svg>
</body></html>
